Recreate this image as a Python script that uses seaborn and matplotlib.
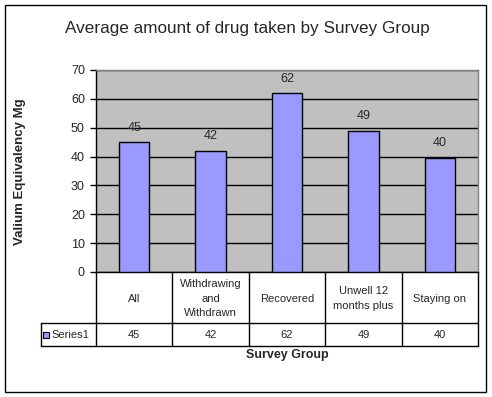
import pandas as pd
import seaborn as sns
import matplotlib.pyplot as plt
from matplotlib.patches import Rectangle
from matplotlib.lines import Line2D

# Chart data
groups = ["All", "Withdrawing\nand\nWithdrawn", "Recovered", "Unwell 12\nmonths plus", "Staying on"]
values = [45, 42, 62, 49, 39.6]
series_name = "Series1"
y_ticks = [0, 10, 20, 30, 40, 50, 60, 70]

df = pd.DataFrame({"group": groups, "value": values})

sns.set_style("white")
plt.rcParams["font.family"] = ["Liberation Sans", "DejaVu Sans"]

W, H = 492, 397
fig = plt.figure(figsize=(W / 100, H / 100), dpi=100)

# plot area in pixels: x 96..478, y 70..272
L, R, T, B = 96, 478, 70, 272
ax = fig.add_axes([L / W, 1 - B / H, (R - L) / W, (B - T) / H])
ax.set_facecolor("#C0C0C0")

sns.barplot(data=df, x="group", y="value", color="#9999FF", width=0.4,
            edgecolor="black", linewidth=1, saturation=1, ax=ax, zorder=3)

labels = [f"{v:.0f}" for v in values]
ax.bar_label(ax.containers[0], labels=labels, padding=6, fontsize=9)

ax.set_ylim(0, 70)
ax.set_xlim(-0.5, len(groups) - 0.5)
ax.set_yticks(y_ticks)
ax.set_yticklabels([str(t) for t in y_ticks], fontsize=9)
ax.yaxis.grid(True, color="black", linewidth=1)
ax.set_axisbelow(True)
ax.tick_params(axis="y", length=4, width=1, color="black", left=True, pad=4)
ax.set_xticks([])
ax.set_xlabel("")
ax.set_ylabel("")
for side in ["top", "right"]:
    ax.spines[side].set_color("#808080")
for side in ["left", "bottom"]:
    ax.spines[side].set_color("black")
for s in ax.spines.values():
    s.set_linewidth(1)

# data table below the axis (pixel coordinates)
def px(x, y):
    return x / W, 1 - y / H

def hline(x0, x1, y):
    a, b = px(x0, y), px(x1, y)
    fig.add_artist(Line2D([a[0], b[0]], [a[1], b[1]], color="black", lw=1))

def vline(x, y0, y1):
    a, b = px(x, y0), px(x, y1)
    fig.add_artist(Line2D([a[0], b[0]], [a[1], b[1]], color="black", lw=1))

row1, row2 = 323, 346
col_w = (R - L) / len(groups)
hline(41, R, row1)
hline(41, R, row2)
vline(41, row1, row2)
for k in range(len(groups) + 1):
    vline(L + k * col_w, B, row2)

for k, (g, v) in enumerate(zip(groups, labels)):
    cx = L + (k + 0.5) * col_w
    fig.text(*px(cx, (B + row1) / 2 + 1), g, ha="center", va="center",
             fontsize=8, linespacing=1.6)
    fig.text(*px(cx, (row1 + row2) / 2 + 1), v, ha="center", va="center", fontsize=8)

kx, ky = px(43, 338)
fig.add_artist(Rectangle((kx, ky), 6 / W, 6 / H, facecolor="#9999FF",
                         edgecolor="black", lw=0.8))
fig.text(*px(51, (row1 + row2) / 2 + 1), series_name, ha="left", va="center", fontsize=8)

# titles
fig.text(*px(247, 28), "Average amount of drug taken by Survey Group",
         ha="center", va="center", fontsize=12.3)
fig.text(*px(287, 355), "Survey Group", ha="center", va="center",
         fontsize=9, fontweight="bold")
fig.text(*px(20, 172), "Valium Equivalency Mg", ha="center", va="center",
         fontsize=9.5, fontweight="bold", rotation=90)

# outer chart border
fig.add_artist(Rectangle((5 / W, 1 - 392 / H), 481 / W, 387 / H, fill=False,
                         edgecolor="black", lw=1))

fig.savefig("out.png", dpi=100, facecolor="white")
